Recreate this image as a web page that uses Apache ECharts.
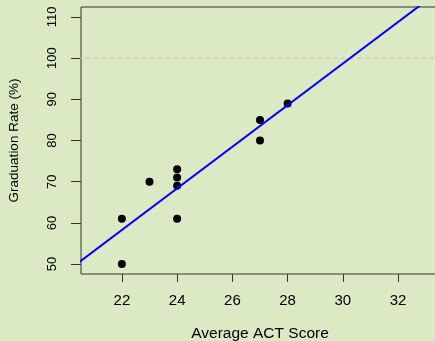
<!DOCTYPE html>
<html>
<head>
<meta charset="utf-8">
<script src="https://cdn.jsdelivr.net/npm/echarts@6/dist/echarts.min.js"></script>
<style>
html,body{margin:0;padding:0;background:#dce9c5;}
#chart{width:435px;height:341px;}
</style>
</head>
<body>
<div id="chart"></div>
<script>
const actScores = [22, 22, 23, 24, 24, 24, 24, 27, 27, 28];
const gradRates = [50, 61, 70, 61, 69, 71, 73, 80, 85, 89];
const xTicks = [22, 24, 26, 28, 30, 32];
const yTicks = [50, 60, 70, 80, 90, 100, 110];
const refLevel = 100;
const xTitle = 'Average ACT Score';
const yTitle = 'Graduation Rate (%)';

// least-squares fit of the data (the drawn regression line)
const n = actScores.length;
const mx = actScores.reduce((a, b) => a + b, 0) / n;
const my = gradRates.reduce((a, b) => a + b, 0) / n;
let sxy = 0, sxx = 0;
for (let i = 0; i < n; i++) {
  sxy += (actScores[i] - mx) * (gradRates[i] - my);
  sxx += (actScores[i] - mx) * (actScores[i] - mx);
}
const slope = sxy / sxx;
const intercept = my - slope * mx;

const xMin = 20.52, xMax = 33.48, yMin = 47.6, yMax = 112.4;
const fitLine = [xMin - 1, xMax + 1].map(x => [x, intercept + slope * x]);

const font = 'Liberation Sans, Arial, Helvetica, sans-serif';
const chart = echarts.init(document.getElementById('chart'), null, {renderer: 'canvas'});
chart.setOption({
  backgroundColor: '#dce9c5',
  animation: false,
  grid: {
    left: 81, top: 7, width: 358, height: 267,
    containLabel: false, outerBoundsMode: 'none',
    show: true, borderColor: '#333', borderWidth: 1, backgroundColor: 'transparent'
  },
  xAxis: {
    type: 'value', min: xMin, max: xMax,
    name: xTitle, nameLocation: 'middle', nameGap: 52,
    nameTextStyle: {fontFamily: font, fontSize: 15.5, color: '#000'},
    axisLine: {show: false},
    splitLine: {show: false},
    axisTick: {show: true, length: 8, customValues: xTicks, lineStyle: {color: '#333'}},
    axisLabel: {customValues: xTicks, fontFamily: font, fontSize: 15, color: '#000', margin: 19}
  },
  yAxis: {
    type: 'value', min: yMin, max: yMax,
    name: yTitle, nameLocation: 'middle', nameGap: 60,
    nameTextStyle: {fontFamily: font, fontSize: 13.5, color: '#000'},
    axisLine: {show: false},
    splitLine: {show: false},
    axisTick: {show: true, length: 10, customValues: yTicks, lineStyle: {color: '#333'}},
    axisLabel: {customValues: yTicks, rotate: 90, fontFamily: font, fontSize: 13, color: '#000', margin: 22}
  },
  series: [
    {
      type: 'line', data: [[xMin - 1, refLevel], [xMax + 1, refLevel]],
      symbol: 'none', silent: true,
      lineStyle: {color: '#c4c8c0', width: 1.2, type: [4, 4]}
    },
    {
      type: 'line', data: fitLine, symbol: 'none', clip: true,
      lineStyle: {color: '#0000ff', width: 2}
    },
    {
      type: 'scatter', data: actScores.map((x, i) => [x, gradRates[i]]),
      symbol: 'circle', symbolSize: 8, itemStyle: {color: '#000', opacity: 1}
    }
  ]
});
</script>
</body>
</html>
